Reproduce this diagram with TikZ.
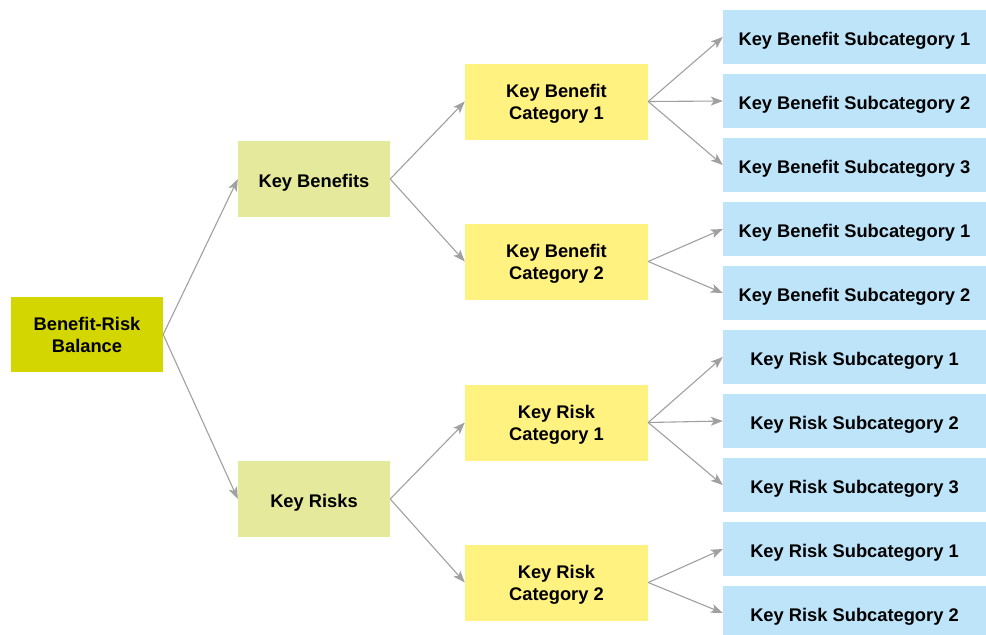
\documentclass[tikz,border=0pt]{standalone}
\usepackage{fontspec}
\setmainfont{Liberation Sans}
\usetikzlibrary{arrows.meta}

\definecolor{rotgul}{RGB}{212,214,0}
\definecolor{grenljus}{RGB}{229,233,155}
\definecolor{katgul}{RGB}{255,242,128}
\definecolor{subbla}{RGB}{190,228,250}
\definecolor{pilgra}{RGB}{160,160,160}

\tikzset{
  ruta/.style={rectangle, inner sep=0pt, align=center,
               font=\bfseries\fontsize{18.3}{22.5}\selectfont},
  enrad/.style={text height=16pt, text depth=0pt},  % en textrad
  tvarad/.style={text height=36pt, text depth=0pt},  % två textrader
  rotruta/.style={ruta, tvarad, fill=rotgul, minimum width=152pt, minimum height=75pt},
  grenruta/.style={ruta, enrad, fill=grenljus, minimum width=152pt, minimum height=76pt},
  katruta/.style={ruta, tvarad, fill=katgul, minimum width=183pt, minimum height=76pt},
  subruta/.style={ruta, enrad, fill=subbla, minimum width=263pt, minimum height=54pt},
  pil/.style={draw=pilgra, line width=1.1pt, -{Stealth[length=12pt, width=9pt, inset=3pt]}}
}

\begin{document}
\begin{tikzpicture}[x=1pt, y=-1pt]
  \useasboundingbox (0, 0) rectangle (986, 635);
  \node [rotruta] (bal) at (87, 334.5) {Benefit-Risk\\Balance};  % rot
  \node [grenruta] (kb) at (314, 179) {Key Benefits};
  \node [grenruta] (kr) at (314, 499) {Key Risks};
  \node [katruta] (kbc1) at (556.5, 101.5) {Key Benefit\\Category 1};
  \node [katruta] (kbc2) at (556.5, 261.5) {Key Benefit\\Category 2};
  \node [katruta] (krc1) at (556.5, 422.5) {Key Risk\\Category 1};
  \node [katruta] (krc2) at (556.5, 582.5) {Key Risk\\Category 2};
  \node [subruta] (kbs11) at (854.5, 37) {Key Benefit Subcategory 1};
  \node [subruta] (kbs12) at (854.5, 101) {Key Benefit Subcategory 2};
  \node [subruta] (kbs13) at (854.5, 165) {Key Benefit Subcategory 3};
  \node [subruta] (kbs21) at (854.5, 229) {Key Benefit Subcategory 1};
  \node [subruta] (kbs22) at (854.5, 293) {Key Benefit Subcategory 2};
  \node [subruta] (krs11) at (854.5, 357) {Key Risk Subcategory 1};
  \node [subruta] (krs12) at (854.5, 421) {Key Risk Subcategory 2};
  \node [subruta] (krs13) at (854.5, 485) {Key Risk Subcategory 3};
  \node [subruta] (krs21) at (854.5, 549) {Key Risk Subcategory 1};
  \node [subruta] (krs22) at (854.5, 613) {Key Risk Subcategory 2};  % sticker ut nedtill
  \draw [pil] (bal.east) -- (kb.west);
  \draw [pil] (bal.east) -- (kr.west);
  \draw [pil] (kb.east) -- (kbc1.west);
  \draw [pil] (kb.east) -- (kbc2.west);
  \draw [pil] (kr.east) -- (krc1.west);
  \draw [pil] (kr.east) -- (krc2.west);
  \draw [pil] (kbc1.east) -- (kbs11.west);
  \draw [pil] (kbc1.east) -- (kbs12.west);
  \draw [pil] (kbc1.east) -- (kbs13.west);
  \draw [pil] (kbc2.east) -- (kbs21.west);
  \draw [pil] (kbc2.east) -- (kbs22.west);
  \draw [pil] (krc1.east) -- (krs11.west);
  \draw [pil] (krc1.east) -- (krs12.west);
  \draw [pil] (krc1.east) -- (krs13.west);
  \draw [pil] (krc2.east) -- (krs21.west);
  \draw [pil] (krc2.east) -- (krs22.west);
\end{tikzpicture}
\end{document}
